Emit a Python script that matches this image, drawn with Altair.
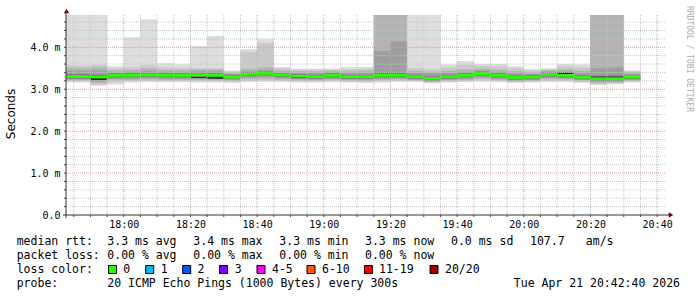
import altair as alt
import pandas as pd

# ---------------- data ----------------
bar_starts = ["17:40", "17:45", "17:50", "17:55", "18:00", "18:05", "18:10", "18:15", "18:20", "18:25",
              "18:30", "18:35", "18:40", "18:45", "18:50", "18:55", "19:00", "19:05", "19:10", "19:15",
              "19:20", "19:25", "19:30", "19:35", "19:40", "19:45", "19:50", "19:55", "20:00", "20:05",
              "20:10", "20:15", "20:20", "20:25", "20:30"]

median_ms = [3.30, 3.30, 3.29, 3.33, 3.33, 3.34, 3.33, 3.33, 3.34, 3.33, 3.29, 3.36, 3.38, 3.34, 3.31,
             3.30, 3.33, 3.30, 3.30, 3.33, 3.33, 3.30, 3.26, 3.30, 3.33, 3.37, 3.33, 3.28, 3.29, 3.35,
             3.33, 3.29, 3.25, 3.25, 3.29]

smoke_max = [4.80, 4.80, 4.80, 3.55, 4.24, 4.67, 3.62, 3.59, 4.03, 4.27, 3.45, 3.96, 4.19, 3.53, 3.49,
             3.49, 3.49, 3.53, 3.53, 4.80, 4.80, 4.80, 4.80, 3.59, 3.67, 3.60, 3.60, 3.55, 3.48, 3.50,
             3.60, 3.59, 4.80, 4.80, 3.45]
smoke_hi2 = [3.56, 3.56, 3.58, 3.50, 3.52, 3.57, 3.52, 3.51, 3.50, 3.50, 3.42, 3.90, 4.10, 3.50, 3.47,
             3.47, 3.47, 3.48, 3.48, 4.80, 4.80, 3.50, 3.47, 3.52, 3.58, 3.55, 3.55, 3.50, 3.45, 3.47,
             3.55, 3.52, 4.80, 4.80, 3.43]
smoke_hi3 = [3.50, 3.50, 3.52, 3.45, 3.46, 3.50, 3.46, 3.45, 3.47, 3.47, 3.39, 3.48, 3.52, 3.45, 3.43,
             3.43, 3.44, 3.43, 3.44, 4.80, 4.80, 3.44, 3.42, 3.44, 3.47, 3.49, 3.46, 3.43, 3.40, 3.45,
             3.47, 3.44, 4.80, 4.80, 3.40]
smoke_hi4 = [3.44, 3.44, 3.45, 3.40, 3.41, 3.43, 3.41, 3.40, 3.42, 3.42, 3.36, 3.43, 3.45, 3.40, 3.39,
             3.38, 3.40, 3.38, 3.39, 3.91, 4.14, 3.39, 3.37, 3.39, 3.41, 3.44, 3.41, 3.38, 3.36, 3.42,
             3.42, 3.39, 3.50, 3.52, 3.36]
smoke_hi5 = [3.36, 3.36, 3.35, 3.38, 3.38, 3.39, 3.38, 3.38, 3.39, 3.38, 3.34, 3.41, 3.42, 3.38, 3.36,
             3.35, 3.38, 3.35, 3.35, 3.40, 3.40, 3.35, 3.31, 3.35, 3.38, 3.42, 3.38, 3.33, 3.34, 3.40,
             3.40, 3.34, 3.32, 3.33, 3.33]
smoke_lo5 = [3.25, 3.25, 3.22, 3.28, 3.28, 3.29, 3.28, 3.28, 3.28, 3.26, 3.25, 3.31, 3.33, 3.29, 3.26,
             3.25, 3.28, 3.25, 3.25, 3.28, 3.28, 3.25, 3.21, 3.25, 3.28, 3.32, 3.28, 3.23, 3.24, 3.30,
             3.28, 3.24, 3.20, 3.20, 3.24]
smoke_lo4 = [3.23, 3.23, 3.19, 3.25, 3.25, 3.26, 3.25, 3.25, 3.25, 3.24, 3.22, 3.28, 3.29, 3.26, 3.24,
             3.23, 3.25, 3.23, 3.23, 3.25, 3.26, 3.23, 3.19, 3.23, 3.25, 3.28, 3.25, 3.21, 3.22, 3.27,
             3.26, 3.22, 3.18, 3.18, 3.22]
smoke_lo3 = [3.21, 3.21, 3.15, 3.21, 3.22, 3.23, 3.22, 3.22, 3.22, 3.21, 3.20, 3.24, 3.25, 3.23, 3.21,
             3.21, 3.22, 3.21, 3.20, 3.22, 3.23, 3.21, 3.17, 3.21, 3.22, 3.25, 3.22, 3.19, 3.20, 3.24,
             3.23, 3.20, 3.15, 3.16, 3.20]
smoke_lo2 = [3.19, 3.19, 3.11, 3.16, 3.19, 3.20, 3.19, 3.19, 3.19, 3.19, 3.18, 3.20, 3.21, 3.20, 3.19,
             3.19, 3.19, 3.18, 3.17, 3.19, 3.20, 3.19, 3.16, 3.18, 3.19, 3.21, 3.19, 3.17, 3.18, 3.20,
             3.20, 3.17, 3.12, 3.14, 3.18]
smoke_min = [3.16, 3.16, 3.08, 3.11, 3.16, 3.17, 3.17, 3.17, 3.16, 3.16, 3.15, 3.17, 3.18, 3.17, 3.16,
             3.16, 3.17, 3.16, 3.15, 3.16, 3.17, 3.17, 3.14, 3.16, 3.17, 3.18, 3.17, 3.15, 3.16, 3.17,
             3.17, 3.15, 3.10, 3.12, 3.16]
dark_lo = [3.30, 3.30, 3.22, 3.33, 3.33, 3.34, 3.33, 3.33, 3.27, 3.25, 3.29, 3.36, 3.38, 3.34, 3.27,
           3.30, 3.33, 3.30, 3.30, 3.33, 3.33, 3.30, 3.26, 3.30, 3.33, 3.37, 3.33, 3.28, 3.29, 3.35,
           3.36, 3.29, 3.27, 3.27, 3.29]
dark_hi = [3.30, 3.30, 3.27, 3.33, 3.33, 3.34, 3.33, 3.33, 3.29, 3.30, 3.29, 3.36, 3.38, 3.34, 3.29,
           3.30, 3.33, 3.30, 3.30, 3.33, 3.33, 3.30, 3.26, 3.30, 3.33, 3.37, 3.33, 3.28, 3.29, 3.35,
           3.39, 3.29, 3.30, 3.30, 3.29]

window = ["17:42:40", "20:42:40"]
x_ticks = ["18:00", "18:20", "18:40", "19:00", "19:20", "19:40", "20:00", "20:20", "20:40"]
y_ticks = [0, 1, 2, 3, 4]
y_title = "Seconds"
watermark = "RRDTOOL / TOBI OETIKER"

legend_line1 = ["median rtt:", "3.3 ms avg", "3.4 ms max", "3.3 ms min", "3.3 ms now", "0.0 ms sd", "107.7", "am/s"]
legend_line2 = ["packet loss:", "0.00 % avg", "0.00 % max", "0.00 % min", "0.00 % now"]
loss_title = "loss color:"
loss_labels = ["0", "1", "2", "3", "4-5", "6-10", "11-19", "20/20"]
loss_colors = ["#26ff00", "#00b8ff", "#0059ff", "#7e00ff", "#ff00ff", "#ff5500", "#ff0000", "#a10000"]
probe_line = ["probe:", "20 ICMP Echo Pings (1000 Bytes) every 300s"]
stamp = "Tue Apr 21 20:42:40 2026"

# ---------------- layout / style ----------------
W, H = 600, 200
PL, PT = 66, 15
Y_MAX = 4.77
MONO = "DejaVu Sans Mono"
smoke_layers = ["L1", "L2", "L3", "L4", "L5", "L6"]
smoke_colors = ["#dddddd", "#c9c9c9", "#b3b3b3", "#9e9e9e", "#7e7e7e", "#2a2a2a"]
line1_x = [16.7, 107.3, 193.3, 279.3, 365.0, 451.0, 530.0, 585.8]
line2_x = [16.7, 107.3, 193.3, 279.3, 365.0]
box_x = [108.5, 145.7, 182.7, 219.5, 257.0, 307.0, 364.4, 430.0]
label_x = [123.3, 160.7, 197.5, 234.7, 272.0, 322.0, 379.0, 445.0]
baselines = [245, 259, 273.3, 287]


def tmin(s):
    p = [int(v) for v in s.split(":")]
    return p[0] * 60 + p[1] + (p[2] / 60 if len(p) > 2 else 0)


t0, t1 = tmin(window[0]), tmin(window[1])

rows = []
bands = [(smoke_min, smoke_max), (smoke_lo2, smoke_hi2), (smoke_lo3, smoke_hi3),
         (smoke_lo4, smoke_hi4), (smoke_lo5, smoke_hi5), (dark_lo, dark_hi)]
for li, (lo_arr, hi_arr) in enumerate(bands):
    for i, t in enumerate(bar_starts):
        rows.append({"s": tmin(t), "e": tmin(t) + 5, "lo": lo_arr[i], "hi": hi_arr[i], "layer": smoke_layers[li]})
smoke_df = pd.DataFrame(rows)
med_df = pd.DataFrame({"s": [tmin(t) for t in bar_starts], "e": [tmin(t) + 5 for t in bar_starts], "m": median_ms})

xs = alt.Scale(domain=[t0, t1], nice=False, zero=False)
ys = alt.Scale(domain=[0, Y_MAX], nice=False, zero=False)

x_axis = alt.Axis(values=[tmin(t) for t in x_ticks],
                  labelExpr="format(floor(datum.value/60),'02d') + ':' + format(datum.value%60,'02d')",
                  domain=False, ticks=False, grid=False, title=None, labelFont=MONO, labelFontSize=10,
                  labelColor="#000000", labelPadding=4, labelOverlap=False, labelFlush=False)
y_axis = alt.Axis(values=y_ticks,
                  labelExpr="datum.value == 0 ? '0.0' : format(datum.value, '.1f') + ' m'",
                  domain=False, ticks=False, grid=False, title=None, labelFont=MONO, labelFontSize=10,
                  labelColor="#000000", labelPadding=6, labelOverlap=False, labelFlush=False)

smoke = alt.Chart(smoke_df).mark_rect(clip=True).encode(
    x=alt.X("s:Q", scale=xs, axis=x_axis), x2="e:Q",
    y=alt.Y("lo:Q", scale=ys, axis=y_axis), y2="hi:Q",
    color=alt.Color("layer:N", scale=alt.Scale(domain=smoke_layers, range=smoke_colors), legend=None),
)

# grid
xmin_vals = [v for v in range(1065, 1241, 5) if v % 20 != 0]
xmaj_vals = [tmin(t) for t in x_ticks]
ymin_vals = [round(v * 0.2, 1) for v in range(1, 24) if v % 5 != 0]
ymaj_vals = [1, 2, 3, 4]

def vgrid(vals, color):
    return alt.Chart(pd.DataFrame({"v": vals})).mark_rule(color=color, strokeDash=[1, 1], strokeWidth=1).encode(
        x=alt.X("v:Q", scale=xs, axis=x_axis), y=alt.value(0), y2=alt.value(H))

def hgrid(vals, color):
    return alt.Chart(pd.DataFrame({"v": vals})).mark_rule(color=color, strokeDash=[1, 1], strokeWidth=1).encode(
        y=alt.Y("v:Q", scale=ys, axis=y_axis), x=alt.value(0), x2=alt.value(W))

def vtick(vals, a, b):
    return alt.Chart(pd.DataFrame({"v": vals})).mark_rule(color="#444444", strokeWidth=1).encode(
        x=alt.X("v:Q", scale=xs, axis=x_axis), y=alt.value(a), y2=alt.value(b))

def htick(vals, a, b):
    return alt.Chart(pd.DataFrame({"v": vals})).mark_rule(color="#444444", strokeWidth=1).encode(
        y=alt.Y("v:Q", scale=ys, axis=y_axis), x=alt.value(a), x2=alt.value(b))

MINOR = "#c4c4c4"
MAJOR = "#e29a9a"

median = alt.Chart(med_df).transform_calculate(
    lo="datum.m - 0.032", hi="datum.m + 0.032"
).mark_rect(color=loss_colors[0], clip=True).encode(
    x=alt.X("s:Q", scale=xs, axis=x_axis), x2="e:Q",
    y=alt.Y("lo:Q", scale=ys, axis=y_axis), y2="hi:Q")

one = alt.Data(values=[{"k": 1}])

def txt(text, x, y, size=11.5, font=MONO, color="#000000", align="left", baseline="alphabetic", angle=0):
    kw = dict(text=text, align=align, baseline=baseline, font=font, fontSize=size, color=color)
    if angle:
        kw["angle"] = angle
    return alt.Chart(one).mark_text(**kw).encode(x=alt.value(x - PL), y=alt.value(y - PT))

def box(x, color):
    return alt.Chart(one).mark_rect(fill=color, stroke="#000000", strokeWidth=1).encode(
        x=alt.value(x - PL), x2=alt.value(x - PL + 8), y=alt.value(265.5 - PT), y2=alt.value(273.5 - PT))

decor = [
    # axes lines
    alt.Chart(one).mark_rule(color="#333333", strokeWidth=1).encode(
        x=alt.value(0), y=alt.value(-4), y2=alt.value(H + 3)),
    alt.Chart(one).mark_rule(color="#333333", strokeWidth=1).encode(
        x=alt.value(-3), x2=alt.value(W + 4), y=alt.value(H)),
    # arrows
    alt.Chart(one).mark_point(shape="triangle-up", filled=True, size=28, color="#7f0000", opacity=1).encode(
        x=alt.value(0.5), y=alt.value(-4)),
    alt.Chart(one).mark_point(shape="triangle-right", filled=True, size=28, color="#7f0000", opacity=1).encode(
        x=alt.value(671 - PL), y=alt.value(H)),
    txt(y_title, 11, 114, size=12, font="DejaVu Sans", align="center", baseline="middle", angle=270),
    txt(watermark, 688.5, 59, size=8, color="#aaaaaa", align="center", baseline="middle", angle=90),
]

legend = []
for s, x in zip(legend_line1, line1_x):
    legend.append(txt(s, x, baselines[0]))
for s, x in zip(legend_line2, line2_x):
    legend.append(txt(s, x, baselines[1]))
legend.append(txt(loss_title, 16.7, baselines[2]))
for lab, c, bx, lx in zip(loss_labels, loss_colors, box_x, label_x):
    legend.append(box(bx, c))
    legend.append(txt(lab, lx, baselines[2]))
legend.append(txt(probe_line[0], 16.7, baselines[3]))
legend.append(txt(probe_line[1], 107.3, baselines[3]))
legend.append(txt(stamp, 680, baselines[3], align="right"))

chart = alt.layer(
    smoke,
    vgrid(xmin_vals, MINOR), hgrid(ymin_vals, MINOR),
    vgrid(xmaj_vals, MAJOR), hgrid(ymaj_vals, MAJOR),
    median,
    vtick(xmin_vals + xmaj_vals, H, H + 2), htick(ymin_vals + ymaj_vals, -2, 0),
    *decor, *legend,
).properties(
    width=W, height=H,
    autosize=alt.AutoSizeParams(type="none"),
    padding={"left": PL, "top": PT, "right": 697 - PL - W, "bottom": 297 - PT - H},
    background="#ffffff",
).configure_view(stroke=None)

chart.save("out.html", embed_options={"renderer": "svg", "actions": False})
